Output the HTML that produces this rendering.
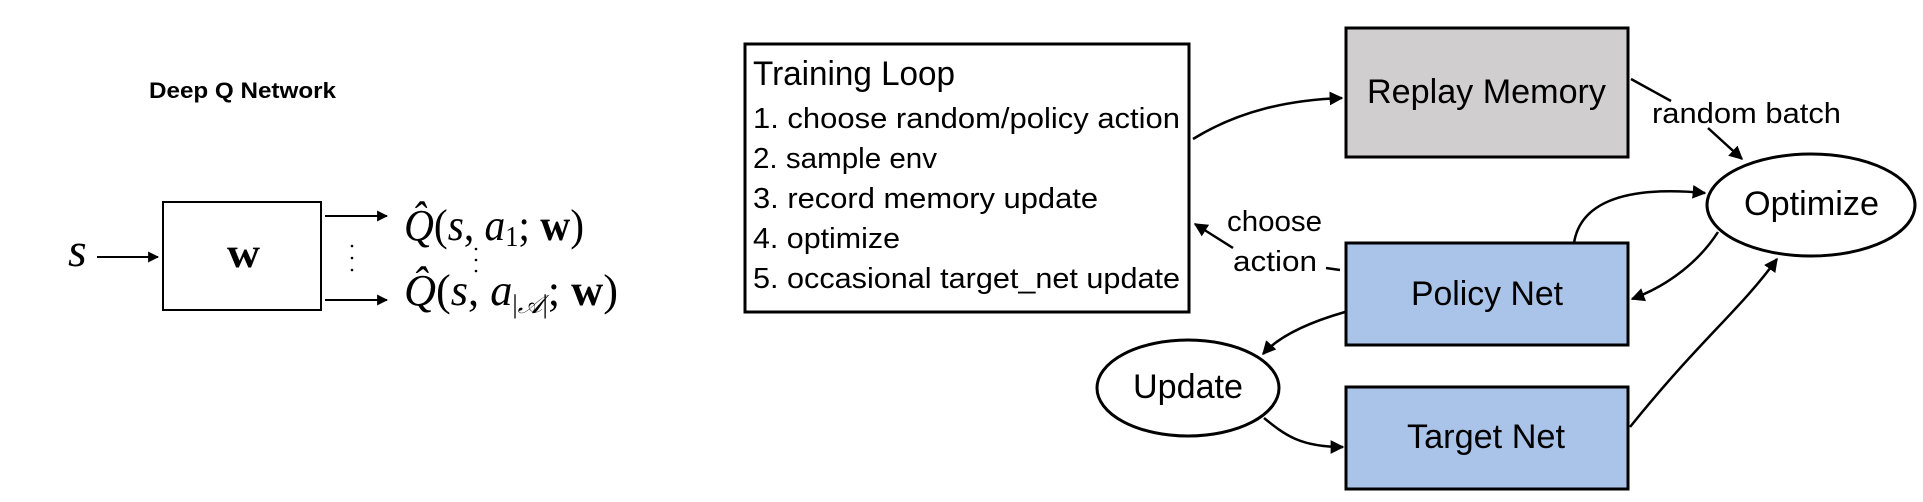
<!DOCTYPE html>
<html><head><meta charset="utf-8"><style>
html,body{margin:0;padding:0;background:#fff;}
svg{display:block;}
.c{font-family:"Liberation Sans",sans-serif;fill:#000;}
.t{font-family:"Liberation Serif",serif;fill:#000;}
</style></head><body>
<svg width="1923" height="502" viewBox="0 0 1923 502" xmlns="http://www.w3.org/2000/svg">
<defs>
<marker id="a" viewBox="0 0 10 10" refX="9" refY="5" markerWidth="5.5" markerHeight="5.5" orient="auto"><path d="M0,0 L10,5 L0,10 z" fill="#000"/></marker>
</defs>
<!-- Left DQN -->
<text class="c" x="149" y="98" font-size="22" font-weight="bold" textLength="187" lengthAdjust="spacingAndGlyphs">Deep Q Network</text>
<rect x="163" y="202" width="158" height="108" fill="#fff" stroke="#000" stroke-width="2"/>
<text class="t" x="227" y="267" font-size="42" font-weight="bold" textLength="33" lengthAdjust="spacingAndGlyphs">w</text>
<text class="t" x="68" y="266" font-size="48" font-style="italic">s</text>
<line x1="97" y1="257" x2="158" y2="257" stroke="#000" stroke-width="2" marker-end="url(#a)"/>
<line x1="325" y1="216" x2="387" y2="216" stroke="#000" stroke-width="2" marker-end="url(#a)"/>
<line x1="325" y1="300" x2="387" y2="300" stroke="#000" stroke-width="2" marker-end="url(#a)"/>
<g fill="#000"><circle cx="352" cy="246" r="1.3"/><circle cx="352" cy="258" r="1.3"/><circle cx="352" cy="270" r="1.3"/>
<circle cx="476" cy="249" r="1.3"/><circle cx="476" cy="260" r="1.3"/><circle cx="476" cy="271" r="1.3"/></g>
<text class="t" x="404" y="240" font-size="44" textLength="180" lengthAdjust="spacingAndGlyphs"><tspan font-style="italic">Q̂</tspan>(<tspan font-style="italic">s</tspan>, <tspan font-style="italic">a</tspan><tspan font-size="28" dy="6">1</tspan><tspan dy="-6">; </tspan><tspan font-weight="bold">w</tspan>)</text>
<text class="t" x="404" y="305" font-size="44" textLength="214" lengthAdjust="spacingAndGlyphs"><tspan font-style="italic">Q̂</tspan>(<tspan font-style="italic">s</tspan>, <tspan font-style="italic">a</tspan><tspan font-size="26" dy="8">|<tspan font-style="italic">𝒜</tspan>|</tspan><tspan dy="-8">; </tspan><tspan font-weight="bold">w</tspan>)</text>
<!-- Training loop -->
<rect x="745" y="44" width="444" height="268" fill="#fff" stroke="#000" stroke-width="3"/>
<g class="c">
<text x="753" y="85" font-size="34" textLength="202" lengthAdjust="spacingAndGlyphs">Training Loop</text>
<text x="753" y="128" font-size="29" textLength="427" lengthAdjust="spacingAndGlyphs">1. choose random/policy action</text>
<text x="753" y="168" font-size="29" textLength="184" lengthAdjust="spacingAndGlyphs">2. sample env</text>
<text x="753" y="208" font-size="29" textLength="345" lengthAdjust="spacingAndGlyphs">3. record memory update</text>
<text x="753" y="248" font-size="29" textLength="147" lengthAdjust="spacingAndGlyphs">4. optimize</text>
<text x="753" y="288" font-size="29" textLength="427" lengthAdjust="spacingAndGlyphs">5. occasional target_net update</text>
</g>
<!-- boxes -->
<rect x="1346" y="28" width="282" height="129" fill="#d0cecf" stroke="#000" stroke-width="3"/>
<rect x="1346" y="243" width="282" height="102" fill="#a9c4e8" stroke="#000" stroke-width="3"/>
<rect x="1346" y="387" width="282" height="102" fill="#a9c4e8" stroke="#000" stroke-width="3"/>
<ellipse cx="1811" cy="205" rx="104" ry="51" fill="#fff" stroke="#000" stroke-width="3"/>
<ellipse cx="1188" cy="388" rx="91" ry="48" fill="#fff" stroke="#000" stroke-width="3"/>
<g class="c">
<text x="1367" y="103" font-size="34" textLength="239" lengthAdjust="spacingAndGlyphs">Replay Memory</text>
<text x="1411" y="305" font-size="34" textLength="152" lengthAdjust="spacingAndGlyphs">Policy Net</text>
<text x="1407" y="448" font-size="34" textLength="158" lengthAdjust="spacingAndGlyphs">Target Net</text>
<text x="1744" y="215" font-size="34" textLength="135" lengthAdjust="spacingAndGlyphs">Optimize</text>
<text x="1133" y="398" font-size="34" textLength="110" lengthAdjust="spacingAndGlyphs">Update</text>
<text x="1652" y="123" font-size="29" textLength="189" lengthAdjust="spacingAndGlyphs">random batch</text>
<text x="1227" y="231" font-size="29" textLength="95" lengthAdjust="spacingAndGlyphs">choose</text>
<text x="1233" y="271" font-size="29" textLength="84" lengthAdjust="spacingAndGlyphs">action</text>
</g>
<!-- connectors -->
<g fill="none" stroke="#000" stroke-width="2.5">
<path d="M1193,139 C1240,110 1290,100 1342,98" marker-end="url(#a)"/>
<path d="M1631,79 L1671,101"/>
<path d="M1708,128 L1742,159" marker-end="url(#a)"/>
<path d="M1574,243 C1580,205 1620,185 1705,193" marker-end="url(#a)"/>
<path d="M1718,232 C1700,260 1670,285 1632,299" marker-end="url(#a)"/>
<path d="M1326,268 L1340,270"/>
<path d="M1233,248 L1195,224" marker-end="url(#a)"/>
<path d="M1345,312 C1310,322 1280,335 1263,354" marker-end="url(#a)"/>
<path d="M1264,418 C1285,435 1300,447 1343,447" marker-end="url(#a)"/>
<path d="M1630,427 C1700,340 1740,310 1777,259" marker-end="url(#a)"/>
</g>
</svg>
</body></html>
